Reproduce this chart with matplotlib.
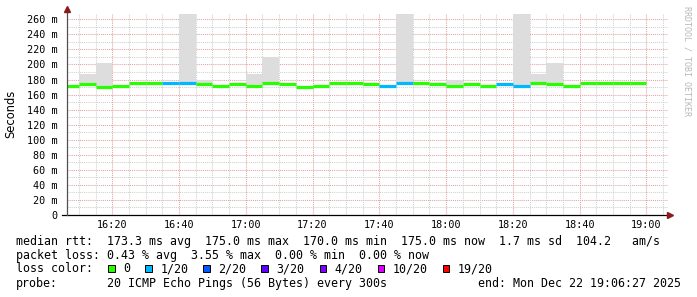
import matplotlib
matplotlib.use("Agg")
import matplotlib.pyplot as plt
from matplotlib.patches import Rectangle


# 5 minute steps, start of each step (HH:MM)
STEP_START = [
    "16:05", "16:10", "16:15", "16:20", "16:25", "16:30", "16:35", "16:40", "16:45",
    "16:50", "16:55", "17:00", "17:05", "17:10", "17:15", "17:20", "17:25", "17:30",
    "17:35", "17:40", "17:45", "17:50", "17:55", "18:00", "18:05", "18:10", "18:15",
    "18:20", "18:25", "18:30", "18:35", "18:40", "18:45", "18:50", "18:55",
]
# median rtt per step (ms)
MEDIAN_MS = [
    172, 174, 170, 172, 175, 175, 175, 175, 174,
    172, 174, 172, 175, 174, 170, 172, 175, 175,
    174, 172, 175, 175, 174, 172, 174, 172, 174,
    172, 175, 174, 172, 175, 175, 175, 175,
]
# highest ping of the step (smoke top, ms)
SMOKE_MAX_MS = [
    172, 187, 201.7, 172, 175, 175, 175, 266.7, 180,
    172, 174, 187, 209.6, 174, 170, 172, 175, 175,
    174, 172, 266.7, 175, 174, 180, 174, 172, 174,
    266.7, 187, 201.7, 172, 175, 175, 175, 175,
]
# lost pings out of 20 per step
LOSS = [
    0, 0, 0, 0, 0, 0, 1, 1, 0,
    0, 0, 0, 0, 0, 0, 0, 0, 0,
    0, 1, 1, 0, 0, 0, 0, 0, 1,
    1, 0, 0, 0, 0, 0, 0, 0,
]

LOSS_LABELS = ["0", "1/20", "2/20", "3/20", "4/20", "10/20", "19/20"]
LOSS_COLORS = ["#26ff00", "#00b8ff", "#0059ff", "#5e00ff", "#7e00ff", "#dd00ff", "#ff0000"]
LOSS_LEVELS = [0, 1, 2, 3, 4, 10, 19]

TIME_TICKS = ["16:20", "16:40", "17:00", "17:20", "17:40", "18:00", "18:20", "18:40", "19:00"]
Y_TICKS = list(range(0, 261, 20))

START = "16:06:27"
END = "19:06:27"

STAT_LINES = [
    "median rtt:  173.3 ms avg  175.0 ms max  170.0 ms min  175.0 ms now  1.7 ms sd  104.2   am/s",
    "packet loss: 0.43 % avg  3.55 % max  0.00 % min  0.00 % now",
]
PROBE_TEXT = "20 ICMP Echo Pings (56 Bytes) every 300s"
END_TEXT = "end: Mon Dec 22 19:06:27 2025"


def to_min(t):
    parts = [int(p) for p in t.split(":")]
    secs = parts[2] if len(parts) > 2 else 0
    return (parts[0] - 16) * 60 + parts[1] + secs / 60.0


def loss_color(n):
    for lvl, col in zip(reversed(LOSS_LEVELS), reversed(LOSS_COLORS)):
        if n >= lvl:
            return col
    return LOSS_COLORS[0]


W, H = 697, 297
fig = plt.figure(figsize=(W / 100, H / 100), dpi=100)
fig.patch.set_facecolor("white")


def fx(px):
    return px / W


def fy(py):
    return 1 - py / H


ax = fig.add_axes([fx(67), fy(215), fx(668) - fx(67), fy(13) - fy(215)])
x0, x1 = to_min(START), to_min(END)
ax.set_xlim(x0, x1)
ax.set_ylim(0, 268.4)

# dotted grid
grid_dash = (0, (1, 1))
minor_col = "#d0d0d0"
major_col = "#e8a0a0"
for v in range(10, 270, 10):
    major = v % 20 == 0
    ax.axhline(v, color=major_col if major else minor_col, lw=0.75,
               ls=grid_dash, zorder=0)
m = 10
while m < x1:
    if m > x0:
        major = m % 20 == 0
        ax.axvline(m, color=major_col if major else minor_col, lw=0.75,
                   ls=grid_dash, zorder=0)
    m += 5

# smoke + median segments
for t, med, top, loss in zip(STEP_START, MEDIAN_MS, SMOKE_MAX_MS, LOSS):
    left = max(to_min(t), x0)
    right = to_min(t) + 5
    if top > med:
        ax.fill_between([left, right], med, top, color="#dddddd", lw=0, zorder=1)
    ax.hlines(med, left, right, color=loss_color(loss), lw=2.3, zorder=3)

for sp in ax.spines.values():
    sp.set_visible(False)

# axes lines with arrows
ax.plot([-5 / 601, 1.002], [0, 0], color="black", lw=0.9,
        transform=ax.transAxes, clip_on=False, zorder=4)
ax.plot([0, 0], [0, 1.012], color="#505050", lw=0.9,
        transform=ax.transAxes, clip_on=False, zorder=4)
ax.plot([1.003], [0], marker=">", ms=4, color="#8b1a1a",
        transform=ax.transAxes, clip_on=False, zorder=5)
ax.plot([0], [1.02], marker="^", ms=4, color="#8b1a1a",
        transform=ax.transAxes, clip_on=False, zorder=5)

ax.set_yticks(Y_TICKS)
ax.set_yticklabels([f"{v} m" if v else "0" for v in Y_TICKS])
ax.set_xticks([to_min(t) for t in TIME_TICKS])
ax.set_xticklabels(TIME_TICKS)
ax.tick_params(axis="y", length=0, pad=6.5, labelsize=7.3)
ax.tick_params(axis="x", length=0, pad=3.5, labelsize=7.3)
for lab in ax.get_xticklabels() + ax.get_yticklabels():
    lab.set_family("DejaVu Sans Mono")

fig.text(fx(11), fy(114), "Seconds", rotation=90, ha="center", va="center",
         fontsize=8.3, family="DejaVu Sans")
fig.text(fx(687), fy(6), "RRDTOOL / TOBI OETIKER", rotation=270, ha="center",
         va="top", fontsize=6, family="DejaVu Sans Mono", color="#b8b8b8")

mono = dict(family="DejaVu Sans Mono", fontsize=8.4, va="center", ha="left")
fig.text(fx(16), fy(241), STAT_LINES[0], **mono)
fig.text(fx(16), fy(255), STAT_LINES[1], **mono)
fig.text(fx(16), fy(269), "loss color:", **mono)
fig.text(fx(16), fy(283.5), "probe:", **mono)
fig.text(fx(107.3), fy(283.5), PROBE_TEXT, **mono)
fig.text(fx(478), fy(283.5), END_TEXT, **mono)

# loss color legend
char_w = 7.02
bx = 108.3
for lab, col in zip(LOSS_LABELS, LOSS_COLORS):
    fig.add_artist(Rectangle((fx(bx), fy(271.5)), fx(6.7), fy(264.5) - fy(271.5),
                             facecolor=col, edgecolor="black", lw=0.7,
                             transform=fig.transFigure))
    fig.text(fx(bx + 15), fy(269), lab, **mono)
    bx = bx + 15 + len(lab) * char_w + 15

fig.savefig("out.png", dpi=100)
